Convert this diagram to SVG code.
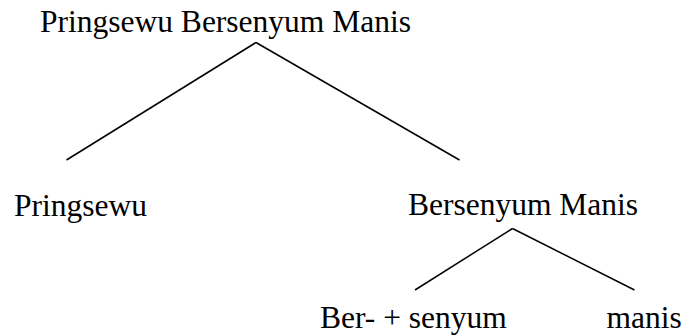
<svg xmlns="http://www.w3.org/2000/svg" width="686" height="335" viewBox="0 0 686 335">
<style>
text{font-family:"Liberation Serif","Times New Roman",serif;font-size:31.5px;fill:#000}
.c line{stroke:#000;stroke-width:1.5;fill:none}
</style>
<rect width="686" height="335" fill="#fff"/>
<g class="c" id="connectors">
<line x1="256" y1="42.5" x2="66.5" y2="160"/>
<line x1="256" y1="42.5" x2="459.5" y2="160"/>
<line x1="512.5" y1="228.5" x2="415" y2="290"/>
<line x1="512.5" y1="228.5" x2="634.5" y2="290"/>
</g>
<g id="root"><text x="40" y="32">Pringsewu Bersenyum Manis</text></g>
<g id="pringsewu"><text x="14" y="216">Pringsewu</text></g>
<g id="bersenyum-manis"><text x="408" y="215">Bersenyum Manis</text></g>
<g id="ber-senyum"><text x="320" y="328">Ber- + senyum</text></g>
<g id="manis"><text x="606.5" y="328">manis</text></g>
</svg>
